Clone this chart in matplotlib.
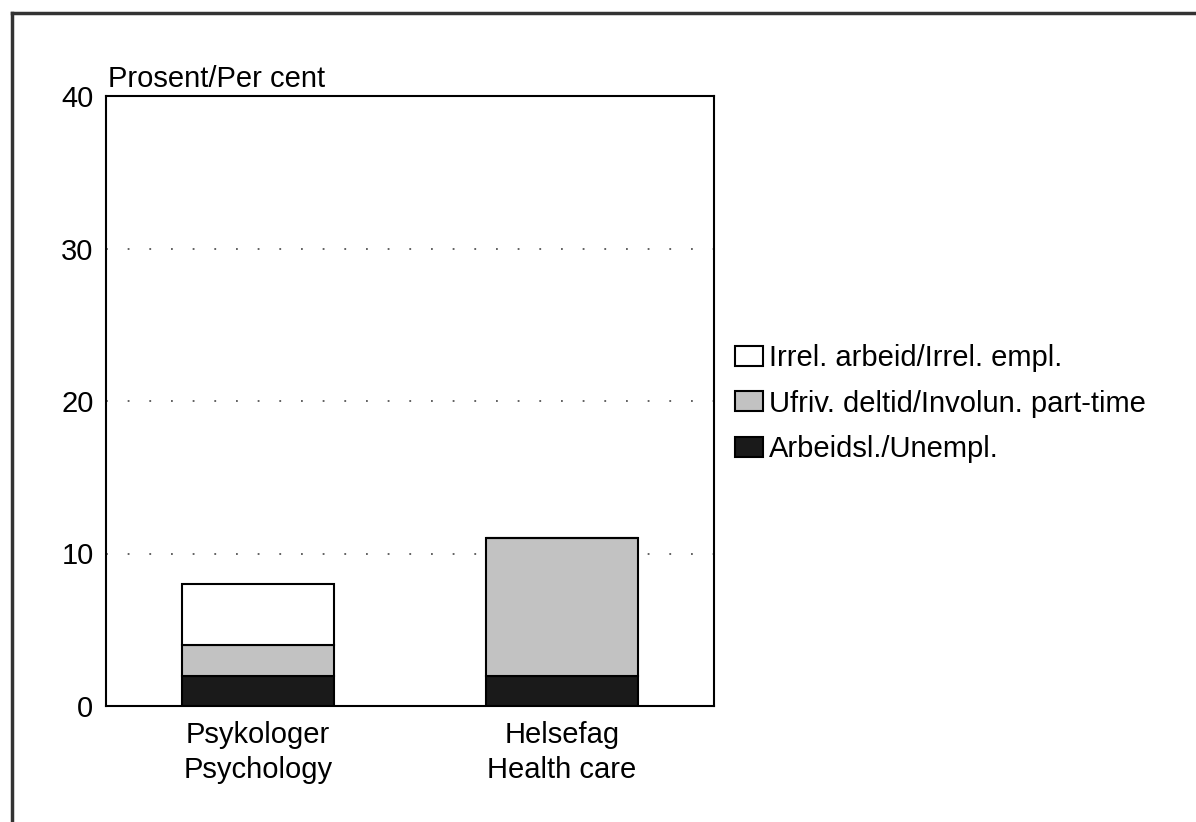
import matplotlib.pyplot as plt
from matplotlib.lines import Line2D

plt.rcParams['font.family'] = ['Liberation Sans', 'DejaVu Sans']

categories = ["Psykologer\nPsychology", "Helsefag\nHealth care"]
unemployed = [2, 2]
part_time = [2, 9]
irrelevant = [4, 0]
labels = ["Arbeidsl./Unempl.", "Ufriv. deltid/Involun. part-time", "Irrel. arbeid/Irrel. empl."]
colors = ["#1a1a1a", "#c2c2c2", "white"]
yticks = [0, 10, 20, 30, 40]

FS = 21

fig = plt.figure(figsize=(11.96, 8.22), dpi=100)
ax = fig.add_axes([106 / 1196, 1 - 706 / 822, 608 / 1196, 610 / 822])

x = list(range(len(categories)))
bottom = [0] * len(categories)
for vals, lab, col in zip([unemployed, part_time, irrelevant], labels, colors):
    ax.bar(x, vals, width=0.5, bottom=bottom, color=col, edgecolor="black",
           linewidth=1.5, label=lab, zorder=3)
    bottom = [a + v for a, v in zip(bottom, vals)]

ax.set_xlim(-0.5, 1.5)
ax.set_ylim(0, 40)
ax.set_yticks(yticks)
ax.set_xticks(x)
ax.set_xticklabels(categories, fontsize=FS, linespacing=1.3)
ax.tick_params(axis="both", length=0, labelsize=FS)
ax.tick_params(axis="y", pad=9)
ax.tick_params(axis="x", pad=11)
ax.yaxis.grid(True, linestyle=(0, (1, 11)), color="#555555", linewidth=1.3, zorder=0)
for s in ax.spines.values():
    s.set_linewidth(1.5)

ax.text(0.003, 1.005, "Prosent/Per cent", transform=ax.transAxes, fontsize=FS,
        ha="left", va="bottom")

handles, labs = ax.get_legend_handles_labels()
fig.legend(handles[::-1], labs[::-1], loc="upper left", bbox_to_anchor=(735 / 1196, 1 - 344 / 822),
           frameon=False, fontsize=FS, handlelength=0.95, handleheight=0.7,
           handletextpad=0.2, labelspacing=0.6, borderpad=0, borderaxespad=0)

# outer frame
fig.add_artist(Line2D([12 / 1196, 1.0], [1 - 13 / 822, 1 - 13 / 822], color="#333333", linewidth=2.5))
fig.add_artist(Line2D([12 / 1196, 12 / 1196], [0.0, 1 - 13 / 822], color="#333333", linewidth=2.5))

fig.savefig("out.png", dpi=100)
